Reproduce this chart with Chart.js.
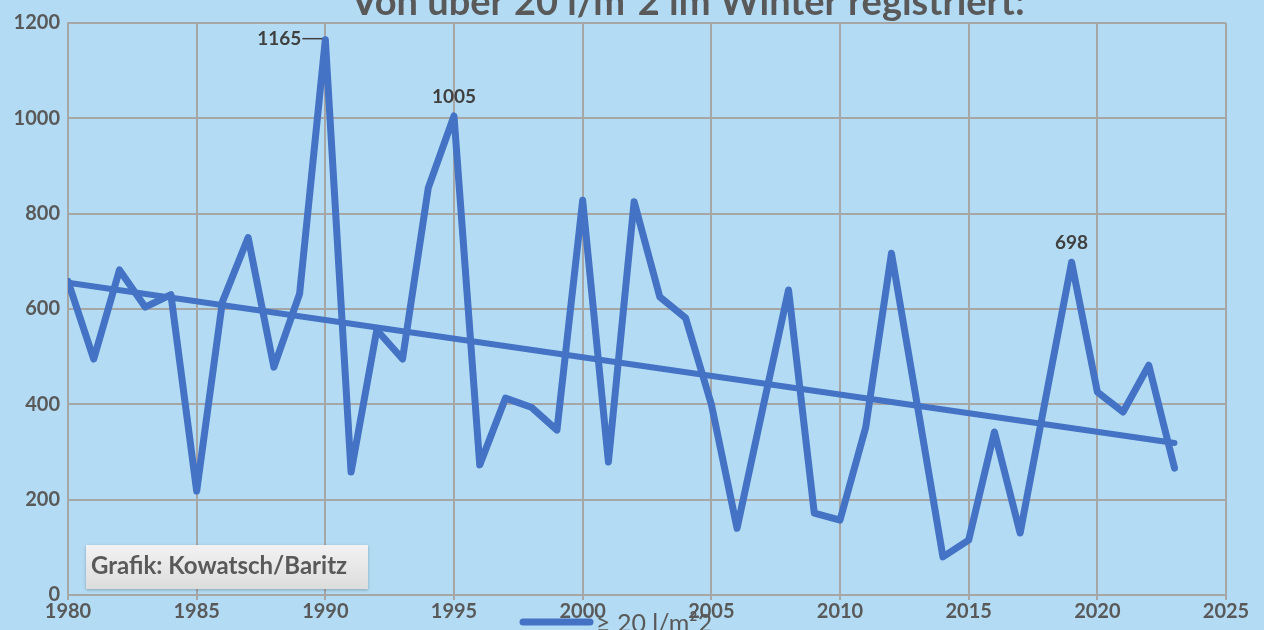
<!DOCTYPE html>
<html>
<head>
<meta charset="utf-8">
<script src="https://cdn.jsdelivr.net/npm/chart.js@4/dist/chart.umd.min.js"></script>
<style>
    html, body { margin: 0; padding: 0; background: #b3dcf4; }
    #wrap { width: 1264px; height: 630px; position: relative; }
</style>
</head>
<body>
<div id="wrap"><canvas id="chart-snow"></canvas></div>
<script>
// Winter days with >= 20 l/m2, per year
const years = [1980, 1981, 1982, 1983, 1984, 1985, 1986, 1987, 1988, 1989,
    1990, 1991, 1992, 1993, 1994, 1995, 1996, 1997, 1998, 1999,
    2000, 2001, 2002, 2003, 2004, 2005, 2006, 2007, 2008, 2009,
    2010, 2011, 2012, 2013, 2014, 2015, 2016, 2017, 2018, 2019,
    2020, 2021, 2022, 2023];
const values = [658, 495, 682, 604, 630, 218, 615, 750, 478, 632,
    1165, 258, 556, 495, 854, 1005, 273, 413, 394, 346,
    828, 279, 825, 625, 581, 400, 140, 392, 640, 172,
    157, 352, 717, 400, 80, 115, 342, 130, 415, 698,
    426, 384, 482, 266];
const trendYears = [1980, 2023];
const trendValues = [655, 319];
const xTicks = [1980, 1985, 1990, 1995, 2000, 2005, 2010, 2015, 2020, 2025];
const labelled = [1990, 1995, 2019];

const blue = '#4472c4';
const grey = '#595959';

const extras = {
    id: 'extras',
    afterDraw(chart) {
        const ctx = chart.ctx;
        const x = chart.scales.x, y = chart.scales.y;
        ctx.save();

        // title, cut at the top edge
        ctx.fillStyle = grey;
        ctx.font = 'bold 38px Lato';
        ctx.textAlign = 'center';
        ctx.textBaseline = 'alphabetic';
        ctx.fillText('Von über 20 l/m²2 im Winter registriert:', 688, 15);

        // value labels
        ctx.fillStyle = '#404040';
        ctx.font = 'bold 19px Lato';
        labelled.forEach(yr => {
            const v = values[years.indexOf(yr)];
            const px = x.getPixelForValue(yr), py = y.getPixelForValue(v);
            if (yr === 1990) {
                ctx.textAlign = 'right';
                ctx.textBaseline = 'middle';
                ctx.fillText(String(v), px - 24, py - 1);
                ctx.strokeStyle = '#404040';
                ctx.lineWidth = 1.5;
                ctx.beginPath();
                ctx.moveTo(px - 23, py - 1);
                ctx.lineTo(px - 3, py - 1);
                ctx.stroke();
            } else {
                ctx.textAlign = 'center';
                ctx.textBaseline = 'bottom';
                ctx.fillText(String(v), px, py - 10);
            }
        });

        // credit box
        ctx.shadowColor = 'rgba(0,0,0,0.25)';
        ctx.shadowBlur = 3;
        ctx.shadowOffsetY = 1;
        const g = ctx.createLinearGradient(0, 545, 0, 590);
        g.addColorStop(0, '#f2f2f2');
        g.addColorStop(1, '#dcdcdc');
        ctx.fillStyle = g;
        ctx.fillRect(86, 545, 282, 44);
        ctx.shadowColor = 'transparent';
        ctx.fillStyle = grey;
        ctx.font = 'bold 24px Lato';
        ctx.textAlign = 'left';
        ctx.textBaseline = 'middle';
        ctx.fillText('Grafik: Kowatsch/Baritz', 91, 566);

        // legend, overlapping the x labels like the original
        ctx.strokeStyle = blue;
        ctx.lineWidth = 7;
        ctx.lineCap = 'round';
        ctx.beginPath();
        ctx.moveTo(523, 622);
        ctx.lineTo(590, 622);
        ctx.stroke();
        ctx.fillStyle = grey;
        ctx.font = '25px Lato';
        ctx.fillText('≥ 20 l/m²2', 596, 624);
        ctx.restore();
    }
};

new Chart(document.getElementById('chart-snow'), {
    type: 'line',
    data: {
        datasets: [{
            label: '≥ 20 l/m²',
            data: years.map((yr, i) => ({x: yr, y: values[i]})),
            borderColor: blue,
            borderWidth: 7,
            borderJoinStyle: 'round',
            borderCapStyle: 'round',
            pointRadius: 0,
            tension: 0
        }, {
            label: 'Trend',
            data: trendYears.map((yr, i) => ({x: yr, y: trendValues[i]})),
            borderColor: blue,
            borderWidth: 6,
            borderCapStyle: 'round',
            pointRadius: 0
        }]
    },
    options: {
        responsive: true,
        maintainAspectRatio: false,
        animation: false,
        layout: {padding: {top: 23, right: 38, left: 0, bottom: 0}},
        plugins: {
            legend: {display: false},
            tooltip: {enabled: false}
        },
        scales: {
            x: {
                type: 'linear',
                min: 1980,
                max: 2025,
                afterBuildTicks: s => { s.ticks = xTicks.map(v => ({value: v})); },
                afterFit: s => { s.height = 35; },
                grid: {color: '#a6a6a6', lineWidth: 2, tickLength: 5},
                border: {color: '#a6a6a6', width: 2},
                ticks: {
                    color: grey,
                    font: {family: 'Lato', size: 20, weight: 'bold'},
                    padding: 0,
                    maxRotation: 0,
                    callback: v => String(v)
                }
            },
            y: {
                min: 0,
                max: 1200,
                afterFit: s => { s.width = 68; },
                grid: {color: '#a6a6a6', lineWidth: 2, drawTicks: false},
                border: {color: '#a6a6a6', width: 2},
                ticks: {
                    stepSize: 200,
                    color: grey,
                    padding: 8,
                    font: {family: 'Lato', size: 20, weight: 'bold'},
                    callback: v => String(v)
                }
            }
        }
    },
    plugins: [extras]
});
</script>
</body>
</html>
